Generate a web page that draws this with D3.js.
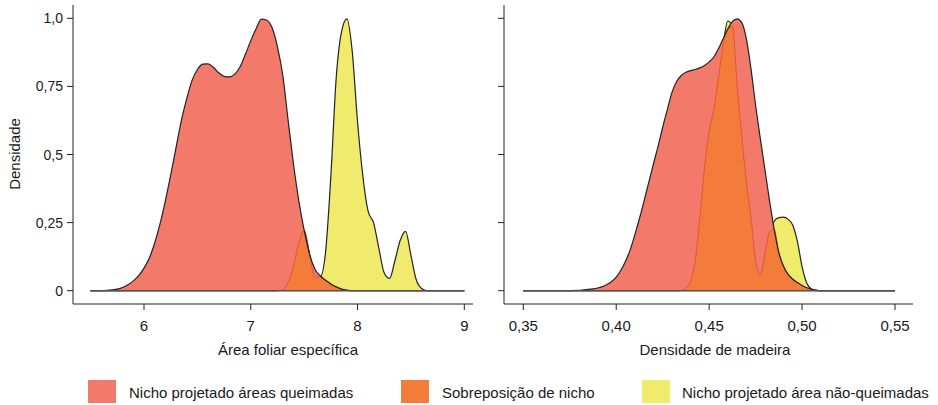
<!DOCTYPE html>
<html>
<head>
<meta charset="utf-8">
<script src="https://cdn.jsdelivr.net/npm/d3@7"></script>
<style>
  html, body { margin: 0; padding: 0; background: #fff; }
  svg { display: block; font-family: "Liberation Sans", Arial, sans-serif; }
</style>
</head>
<body>
<svg id="chart" width="938" height="405"></svg>
<script>
// ---------- DATA ----------
// Left panel: Área foliar específica
const leftX = [5.50,5.55,5.60,5.65,5.70,5.75,5.80,5.85,5.90,5.95,
  6.00,6.05,6.10,6.15,6.20,6.25,6.30,6.35,6.40,6.45,
  6.50,6.55,6.60,6.65,6.70,6.75,6.80,6.85,6.90,6.95,
  7.00,7.05,7.10,7.15,7.20,7.25,7.30,7.35,7.40,7.45,
  7.50,7.55,7.60,7.65,7.70,7.75,7.80,7.85,7.90,7.95,
  8.00,8.05,8.10,8.15,8.20,8.25,8.30,8.35,8.40,8.45,
  8.50,8.55,8.60,8.65,8.70,8.75,8.80,8.85,8.90,8.95,9.00];
const leftBurned = [0,0,0,0.001,0.003,0.006,0.012,0.022,0.036,0.055,
  0.083,0.12,0.175,0.245,0.33,0.425,0.525,0.625,0.705,0.772,
  0.812,0.832,0.833,0.82,0.80,0.787,0.785,0.795,0.822,0.868,
  0.918,0.962,0.997,0.993,0.965,0.895,0.79,0.625,0.465,0.33,
  0.222,0.135,0.08,0.055,0.038,0.025,0.014,0.006,0.002,0,
  0,0,0,0,0,0,0,0,0,0,
  0,0,0,0,0,0,0,0,0,0,0];
const leftUnburned = [0,0,0,0,0,0,0,0,0,0,
  0,0,0,0,0,0,0,0,0,0,
  0,0,0,0,0,0,0,0,0,0,
  0,0,0,0,0,0,0.005,0.03,0.09,0.175,
  0.222,0.135,0.05,0.05,0.14,0.42,0.78,0.95,0.998,0.88,
  0.62,0.42,0.29,0.25,0.155,0.065,0.045,0.11,0.185,0.218,
  0.13,0.04,0.008,0,0,0,0,0,0,0,0];
const leftOverlap = [0,0,0,0,0,0,0,0,0,0,
  0,0,0,0,0,0,0,0,0,0,
  0,0,0,0,0,0,0,0,0,0,
  0,0,0,0,0,0,0.005,0.03,0.09,0.175,
  0.222,0.135,0.05,0.05,0.038,0.025,0.014,0.006,0.002,0,
  0,0,0,0,0,0,0,0,0,0,
  0,0,0,0,0,0,0,0,0,0,0];

// Right panel: Densidade de madeira
const rightX = [0.35,0.36,0.37,
  0.3800,0.3825,0.3850,0.3875,0.3900,0.3925,0.3950,0.3975,
  0.4000,0.4025,0.4050,0.4075,0.4100,0.4125,0.4150,0.4175,
  0.4200,0.4225,0.4250,0.4275,0.4300,0.4325,0.4350,0.4375,
  0.4400,0.4425,0.4450,0.4475,0.4500,0.4525,0.4550,0.4575,
  0.4600,0.4625,0.4650,0.4675,0.4700,0.4725,0.4750,0.4775,
  0.4800,0.4825,0.4850,0.4875,0.4900,0.4925,0.4950,0.4975,
  0.5000,0.5025,0.5050,0.5075,0.5100,
  0.52,0.53,0.54,0.55];
const rightBurned = [0,0,0,
  0.001,0.003,0.005,0.007,0.010,0.015,0.023,0.034,
  0.050,0.075,0.108,0.150,0.205,0.265,0.330,0.398,
  0.465,0.530,0.600,0.665,0.728,0.768,0.790,0.802,
  0.808,0.812,0.818,0.827,0.840,0.858,0.888,0.925,
  0.960,0.988,0.998,0.985,0.925,0.815,0.680,0.560,
  0.445,0.330,0.225,0.140,0.090,0.060,0.042,0.030,
  0.019,0.011,0.006,0.002,0,
  0,0,0,0];
const rightUnburned = [0,0,0,
  0,0,0,0,0,0,0,0,
  0,0,0,0,0,0,0,0,
  0,0,0,0,0,0,0.001,0.01,
  0.035,0.11,0.27,0.45,0.585,0.665,0.78,0.90,
  0.99,0.97,0.76,0.57,0.40,0.27,0.11,0.058,
  0.135,0.215,0.255,0.268,0.27,0.262,0.24,0.18,
  0.088,0.028,0.006,0.001,0,
  0,0,0,0];
const rightOverlap = [0,0,0,
  0,0,0,0,0,0,0,0,
  0,0,0,0,0,0,0,0,
  0,0,0,0,0,0,0.001,0.01,
  0.035,0.11,0.27,0.45,0.585,0.665,0.78,0.90,
  0.96,0.97,0.76,0.57,0.40,0.27,0.11,0.058,
  0.135,0.215,0.225,0.140,0.090,0.060,0.042,0.030,
  0.019,0.011,0.006,0.001,0,
  0,0,0,0];

const yTicks = [0, 0.25, 0.5, 0.75, 1.0];
const yTickLabels = ["0", "0,25", "0,5", "0,75", "1,0"];
const leftXTicks = [6, 7, 8, 9];
const leftXTickLabels = ["6", "7", "8", "9"];
const rightXTicks = [0.35, 0.40, 0.45, 0.50, 0.55];
const rightXTickLabels = ["0,35", "0,40", "0,45", "0,50", "0,55"];
const legendLabels = ["Nicho projetado áreas queimadas", "Sobreposição de nicho", "Nicho projetado área não-queimadas"];

// ---------- STYLE ----------
const COL_RED = "#F3796A";
const COL_ORANGE = "#F47C3B";
const COL_YELLOW = "#F0EB6D";
const COL_OVER_STROKE = "#D8452F";

const svg = d3.select("#chart");

const y = d3.scaleLinear().domain([0, 1]).range([290.7, 18.3]);

function panel(opts) {
  const g = svg.append("g");
  const x = opts.x;
  const xs = opts.xs;
  const mk = vals => xs.map((v, i) => ({x: v, y: vals[i]}));
  const area = d3.area().x(d => x(d.x)).y0(y(0)).y1(d => y(d.y)).curve(d3.curveMonotoneX);
  const line = d3.line().x(d => x(d.x)).y(d => y(d.y)).curve(d3.curveMonotoneX);

  const un = mk(opts.unburned), bu = mk(opts.burned), ov = mk(opts.overlap);

  // yellow
  g.append("path").attr("d", area(un)).attr("fill", COL_YELLOW);
  g.append("path").attr("d", line(un)).attr("fill", "none").attr("stroke", "#222").attr("stroke-width", 1.2);
  // red
  g.append("path").attr("d", area(bu)).attr("fill", COL_RED);
  // overlap
  g.append("path").attr("d", area(ov)).attr("fill", COL_ORANGE)
    .attr("stroke", COL_OVER_STROKE).attr("stroke-width", 0.8).attr("stroke-opacity", 0.9);
  // red outline on top
  g.append("path").attr("d", line(bu)).attr("fill", "none").attr("stroke", "#222").attr("stroke-width", 1.2);
  // baseline
  g.append("line").attr("x1", x(xs[0])).attr("x2", x(xs[xs.length - 1]))
    .attr("y1", y(0)).attr("y2", y(0)).attr("stroke", "#555").attr("stroke-width", 1.6);

  // axes
  const axY = opts.axisX0, axB = 304;
  g.append("line").attr("x1", axY).attr("x2", axY).attr("y1", 5).attr("y2", axB)
    .attr("stroke", "#222").attr("stroke-width", 1);
  g.append("line").attr("x1", axY).attr("x2", opts.axisX1).attr("y1", axB).attr("y2", axB)
    .attr("stroke", "#222").attr("stroke-width", 1);

  yTicks.forEach((t, i) => {
    g.append("line").attr("x1", axY - 6).attr("x2", axY).attr("y1", y(t)).attr("y2", y(t))
      .attr("stroke", "#222").attr("stroke-width", 1);
    if (opts.yLabels) {
      g.append("text").attr("x", axY - 10).attr("y", y(t)).attr("dy", "0.36em")
        .attr("text-anchor", "end").attr("font-size", 14).attr("fill", "#1a1a1a").text(yTickLabels[i]);
    }
  });
  opts.xTicks.forEach((t, i) => {
    g.append("line").attr("x1", x(t)).attr("x2", x(t)).attr("y1", axB).attr("y2", axB + 6)
      .attr("stroke", "#222").attr("stroke-width", 1);
    g.append("text").attr("x", x(t)).attr("y", 331).attr("text-anchor", "middle")
      .attr("font-size", 15).attr("fill", "#1a1a1a").text(opts.xTickLabels[i]);
  });
  g.append("text").attr("x", opts.titleX).attr("y", 355).attr("text-anchor", "middle")
    .attr("font-size", 15).attr("fill", "#1a1a1a").text(opts.title);
}

panel({
  xs: leftX, burned: leftBurned, unburned: leftUnburned, overlap: leftOverlap,
  x: d3.scaleLinear().domain([6, 9]).range([144, 464.3]),
  axisX0: 73, axisX1: 473, yLabels: true,
  xTicks: leftXTicks, xTickLabels: leftXTickLabels,
  title: "Área foliar específica", titleX: 288
});
panel({
  xs: rightX, burned: rightBurned, unburned: rightUnburned, overlap: rightOverlap,
  x: d3.scaleLinear().domain([0.35, 0.55]).range([523.3, 895]),
  axisX0: 504, axisX1: 913, yLabels: false,
  xTicks: rightXTicks, xTickLabels: rightXTickLabels,
  title: "Densidade de madeira", titleX: 715
});

// y-axis title
svg.append("text").attr("transform", "translate(20,154) rotate(-90)")
  .attr("text-anchor", "middle").attr("font-size", 15).attr("fill", "#1a1a1a").text("Densidade");

// legend
const legendCols = [COL_RED, COL_ORANGE, COL_YELLOW];
const legendRectX = [88, 401, 642];
const legendTextX = [129, 442, 682];
legendLabels.forEach((lab, i) => {
  svg.append("rect").attr("x", legendRectX[i]).attr("y", 380).attr("width", 28).attr("height", 23)
    .attr("fill", legendCols[i]);
  svg.append("text").attr("x", legendTextX[i]).attr("y", 398).attr("font-size", 15)
    .attr("fill", "#1a1a1a").text(lab);
});
</script>
</body>
</html>
